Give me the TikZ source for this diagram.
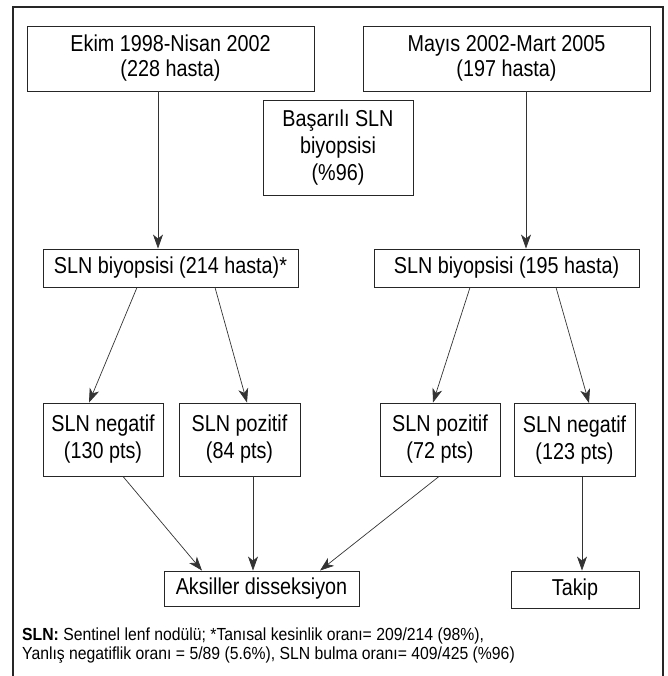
\documentclass[tikz,border=0pt]{standalone}
\usepackage{fontspec}
\setmainfont{Liberation Sans}[FakeStretch=0.86]
\newfontfamily\notefont{Liberation Sans}[FakeStretch=0.9]
\usetikzlibrary{arrows.meta}

\begin{document}
\begin{tikzpicture}[x=1pt,y=-1pt,
  box/.style={draw=black!85,line width=0.9pt,inner sep=0pt,align=center,
    font=\fontsize{23}{27}\selectfont},
  arr/.style={black!80,line width=0.7pt,-{Stealth[length=14pt,width=10pt,inset=4pt]}}]
  \useasboundingbox (0,0) rectangle (667,676);
  % frame, open at the bottom
  \draw [black!85,line width=1.3pt] (13,676) -- (13,7) -- (663,7) -- (663,676);
  % periods
  \node [box,minimum width=287pt,minimum height=65pt,font=\fontsize{23}{25}\selectfont]
    (ekim) at (170.5,58.5) {Ekim 1998-Nisan 2002\\(228 hasta)};
  \node [box,minimum width=287pt,minimum height=65pt,font=\fontsize{23}{25}\selectfont]
    (mayis) at (506.5,58.5) {Mayıs 2002-Mart 2005\\(197 hasta)};
  \node [box,minimum width=150pt,minimum height=95pt] (basari) at (338,147.5)
    {Başarılı SLN\\biyopsisi\\(\%96)};
  % biopsies
  \node [box,minimum width=255pt,minimum height=38pt] (biyo1) at (170.5,268)
    {SLN biyopsisi (214 hasta)*};
  \node [box,minimum width=265pt,minimum height=38pt] (biyo2) at (506.5,268)
    {SLN biyopsisi (195 hasta)};
  % results
  \node [box,minimum width=120pt,minimum height=73pt] (neg1) at (103,439.5)
    {SLN negatif\\(130 pts)};
  \node [box,minimum width=121pt,minimum height=73pt] (poz1) at (239.5,439.5)
    {SLN pozitif\\(84 pts)};
  \node [box,minimum width=120pt,minimum height=73pt] (poz2) at (440,439.5)
    {SLN pozitif\\(72 pts)};
  \node [box,minimum width=121pt,minimum height=73pt] (neg2) at (574.5,440)
    {SLN negatif\\(123 pts)};
  % outcome
  \node [box,minimum width=195pt,minimum height=35pt] (aks) at (261.5,588.5)
    {Aksiller disseksiyon};
  \node [box,minimum width=128pt,minimum height=37pt] (takip) at (575,589.5)
    {Takip};
  % arrows
  \draw [arr] ([xshift=-12.5pt]ekim.south) -- ([xshift=-12.5pt]biyo1.north);
  \draw [arr] ([xshift=19.5pt]mayis.south) -- ([xshift=19.5pt]biyo2.north);
  \draw [arr] ([xshift=-33.5pt]biyo1.south) -- ([xshift=-14pt]neg1.north);
  \draw [arr] ([xshift=44.5pt]biyo1.south) -- ([xshift=7.5pt]poz1.north);
  \draw [arr] ([xshift=-36.5pt]biyo2.south) -- ([xshift=-7pt]poz2.north);
  \draw [arr] ([xshift=49.5pt]biyo2.south) -- ([xshift=14.5pt]neg2.north);
  \draw [arr] ([xshift=20pt]neg1.south) -- ([xshift=-59.5pt]aks.north);
  \draw [arr] ([xshift=13.5pt]poz1.south) -- ([xshift=-8.5pt]aks.north);
  \draw [arr] ([xshift=-1pt]poz2.south) -- ([xshift=58.5pt]aks.north);
  \draw [arr] ([xshift=7.5pt]neg2.south) -- ([xshift=7pt]takip.north);
  % footnote
  \node [anchor=west,align=left,inner sep=0pt,
    font=\notefont\fontsize{17.5}{19}\selectfont] (note) at (22,645.5)
    {\textbf{SLN:} Sentinel lenf nodülü; *Tanısal kesinlik oranı= 209/214 (98\%),\\
     Yanlış negatiflik oranı = 5/89 (5.6\%), SLN bulma oranı= 409/425 (\%96)};
\end{tikzpicture}
\end{document}
